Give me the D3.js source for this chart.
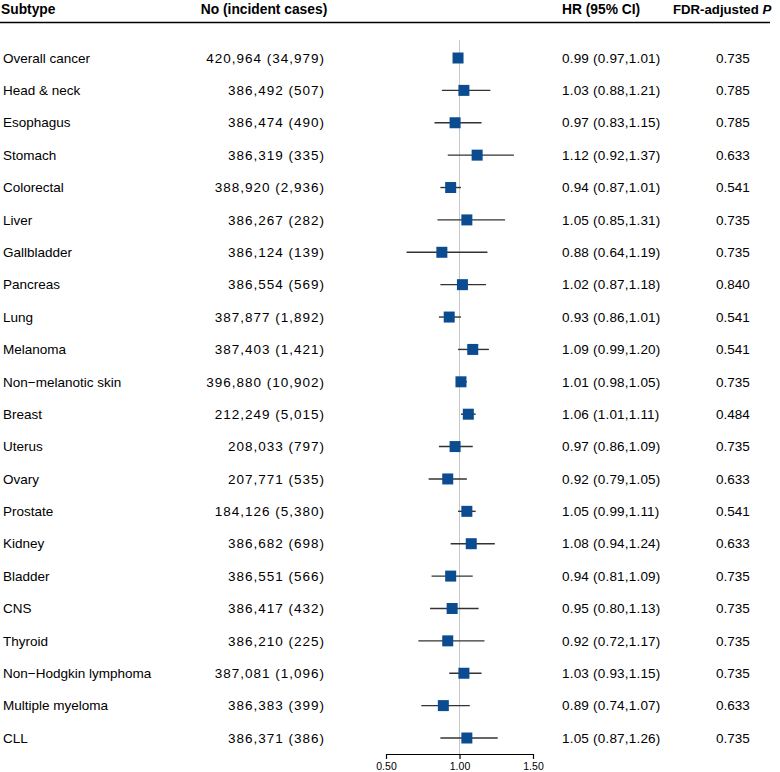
<!DOCTYPE html>
<html>
<head>
<meta charset="utf-8">
<script src="https://cdn.jsdelivr.net/npm/d3@7"></script>
<style>
  body { margin: 0; background: #fff; }
  svg { font-family: "Liberation Sans", Arial, sans-serif; }
</style>
</head>
<body>
<script>
const subtypes = ['Overall cancer', 'Head & neck', 'Esophagus', 'Stomach', 'Colorectal', 'Liver', 'Gallbladder',
    'Pancreas', 'Lung', 'Melanoma', 'Non\u2212melanotic skin', 'Breast', 'Uterus', 'Ovary', 'Prostate', 'Kidney',
    'Bladder', 'CNS', 'Thyroid', 'Non\u2212Hodgkin lymphoma', 'Multiple myeloma', 'CLL'];
const cases = ['420,964 (34,979)', '386,492 (507)', '386,474 (490)', '386,319 (335)', '388,920 (2,936)', '386,267 (282)',
    '386,124 (139)', '386,554 (569)', '387,877 (1,892)', '387,403 (1,421)', '396,880 (10,902)', '212,249 (5,015)',
    '208,033 (797)', '207,771 (535)', '184,126 (5,380)', '386,682 (698)', '386,551 (566)', '386,417 (432)',
    '386,210 (225)', '387,081 (1,096)', '386,383 (399)', '386,371 (386)'];
const hr = [0.99, 1.03, 0.97, 1.12, 0.94, 1.05, 0.88, 1.02, 0.93, 1.09, 1.01, 1.06, 0.97, 0.92, 1.05, 1.08, 0.94, 0.95, 0.92, 1.03, 0.89, 1.05];
const lower = [0.97, 0.88, 0.83, 0.92, 0.87, 0.85, 0.64, 0.87, 0.86, 0.99, 0.98, 1.01, 0.86, 0.79, 0.99, 0.94, 0.81, 0.80, 0.72, 0.93, 0.74, 0.87];
const upper = [1.01, 1.21, 1.15, 1.37, 1.01, 1.31, 1.19, 1.18, 1.01, 1.20, 1.05, 1.11, 1.09, 1.05, 1.11, 1.24, 1.09, 1.13, 1.17, 1.15, 1.07, 1.26];
const fdrP = ['0.735', '0.785', '0.785', '0.633', '0.541', '0.735', '0.735', '0.840', '0.541', '0.541', '0.735', '0.484',
    '0.735', '0.633', '0.541', '0.633', '0.735', '0.735', '0.735', '0.735', '0.633', '0.735'];
const xTicks = [0.5, 1.0, 1.5];

const w = 780, h = 772;
const fmt = d3.format('.2f');
const rows = subtypes.map((s, i) => ({ name: s, cases: cases[i], hr: hr[i], lo: lower[i], hi: upper[i], p: fdrP[i] }));

const x = d3.scaleLinear().domain([0.5, 1.5]).range([386, 533]);
const y = d3.scalePoint().domain(subtypes).range([58, 738]);
const axisY = 754;

const svg = d3.select('body').append('svg').attr('width', w).attr('height', h);

// header
const head = svg.append('g').attr('font-size', 13.8).attr('font-weight', 'bold').attr('fill', '#000');
head.append('text').attr('x', 1).attr('y', 14).text('Subtype');
head.append('text').attr('x', 264).attr('y', 14).attr('text-anchor', 'middle').text('No (incident cases)');
head.append('text').attr('x', 562).attr('y', 14).text('HR (95% CI)');
const fdr = head.append('text').attr('x', 673).attr('y', 14).attr('font-size', 13.2);
fdr.append('tspan').text('FDR-adjusted ');
fdr.append('tspan').attr('font-style', 'italic').text('P');
svg.append('line')
    .attr('x1', 0).attr('x2', 770).attr('y1', 22.5).attr('y2', 22.5)
    .attr('stroke', '#000').attr('stroke-width', 1.5);

// reference line at 1
svg.append('line')
    .attr('x1', x(1)).attr('x2', x(1)).attr('y1', 40).attr('y2', axisY)
    .attr('stroke', '#c8c8c8').attr('stroke-width', 1);

// table text
const body = svg.append('g').attr('font-size', 13.5).attr('fill', '#000');
body.selectAll('.sub').data(rows).join('text').attr('class', 'sub')
    .attr('x', 3).attr('y', d => y(d.name)).attr('dy', '0.35em').text(d => d.name);
body.selectAll('.cases').data(rows).join('text').attr('class', 'cases')
    .attr('x', 325).attr('y', d => y(d.name)).attr('dy', '0.35em').attr('text-anchor', 'end')
    .attr('letter-spacing', 1).text(d => d.cases);
body.selectAll('.hr').data(rows).join('text').attr('class', 'hr')
    .attr('x', 562).attr('y', d => y(d.name)).attr('dy', '0.35em').attr('letter-spacing', 0.2)
    .text(d => `${fmt(d.hr)} (${fmt(d.lo)},${fmt(d.hi)})`);
body.selectAll('.p').data(rows).join('text').attr('class', 'p')
    .attr('x', 733).attr('y', d => y(d.name)).attr('dy', '0.35em').attr('text-anchor', 'middle').text(d => d.p);

// CIs and markers
svg.append('g').selectAll('line').data(rows).join('line')
    .attr('x1', d => x(d.lo)).attr('x2', d => x(d.hi))
    .attr('y1', d => y(d.name)).attr('y2', d => y(d.name))
    .attr('stroke', '#333').attr('stroke-width', 1.4);

const sz = 11;
svg.append('g').selectAll('rect').data(rows).join('rect')
    .attr('x', d => x(d.hr) - sz / 2).attr('y', d => y(d.name) - sz / 2)
    .attr('width', sz).attr('height', sz)
    .attr('fill', '#0b4c91');

// axis
const ax = svg.append('g')
    .attr('transform', `translate(0, ${axisY})`)
    .call(d3.axisBottom(x).tickValues(xTicks).tickFormat(fmt).tickSize(5).tickSizeOuter(0));
ax.select('.domain').attr('stroke', '#000').attr('stroke-width', 1.2);
ax.selectAll('.tick line').attr('stroke', '#000').attr('stroke-width', 1.2);
ax.selectAll('text').attr('font-size', 10.5).attr('font-family', '"Liberation Sans", Arial, sans-serif').attr('fill', '#000').attr('dy', '0.8em');
</script>
</body>
</html>
